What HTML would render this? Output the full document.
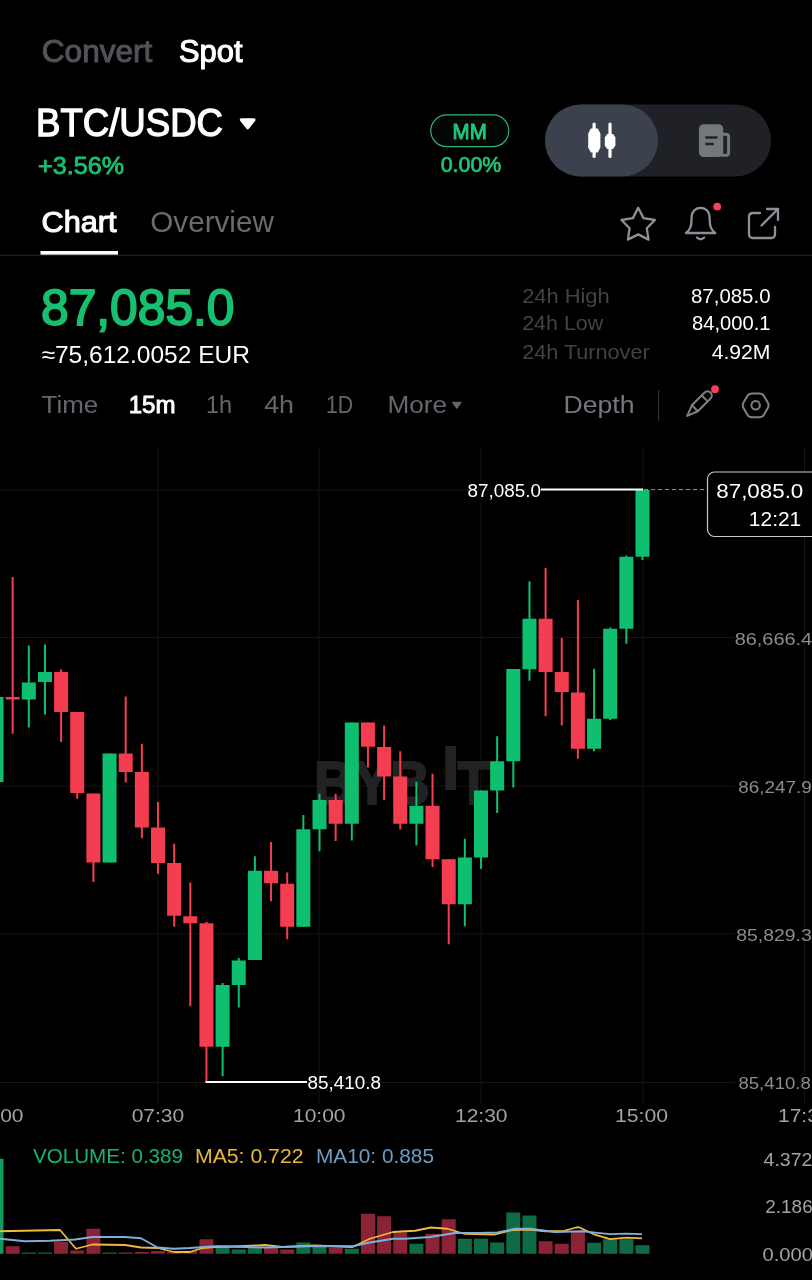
<!DOCTYPE html>
<html lang="en">
<head>
<meta charset="utf-8">
<title>BTC/USDC Spot</title>
<style>
html,body{margin:0;padding:0;background:#000;}
body{width:812px;height:1280px;overflow:hidden;font-family:"Liberation Sans",sans-serif;}
svg{display:block;position:absolute;left:0;top:0;}
text{font-family:"Liberation Sans",sans-serif;white-space:pre;}
.b{font-weight:bold;}
</style>
</head>
<body>
<svg width="812" height="1280" viewBox="0 0 812 1280">
<rect width="812" height="1280" fill="#000"/>
<rect x="0" y="489.5" width="735" height="1" fill="#151515"/>
<rect x="0" y="637.0" width="735" height="1" fill="#151515"/>
<rect x="0" y="785.5" width="735" height="1" fill="#151515"/>
<rect x="0" y="933.5" width="735" height="1" fill="#151515"/>
<rect x="0" y="1082.0" width="735" height="1" fill="#151515"/>
<rect x="157.5" y="447.5" width="1" height="656" fill="#151515"/>
<rect x="318.5" y="447.5" width="1" height="656" fill="#151515"/>
<rect x="480.5" y="447.5" width="1" height="656" fill="#151515"/>
<rect x="642.5" y="447.5" width="1" height="656" fill="#151515"/>
<rect x="804.0" y="447.5" width="1" height="656" fill="#151515"/>
<g fill="#222224" stroke="#222224" stroke-width="2" font-family="Liberation Sans, sans-serif" font-weight="bold" font-size="62"><text x="314" y="803.5" textLength="116" lengthAdjust="spacingAndGlyphs">BYB</text><text x="442.2" y="789.3" font-size="60.5">I</text><text x="457.5" y="803.5" textLength="32.5" lengthAdjust="spacingAndGlyphs">T</text></g>
<rect x="-10.5" y="697" width="14" height="85" fill="#0fbf70"/>
<rect x="11.65" y="577" width="2" height="156.75" fill="#f43d50"/>
<rect x="5.65" y="697" width="14" height="2.5" fill="#f43d50"/>
<rect x="27.8" y="645.5" width="2" height="82" fill="#0fbf70"/>
<rect x="21.8" y="682.5" width="14" height="17" fill="#0fbf70"/>
<rect x="43.95" y="644.5" width="2" height="70" fill="#0fbf70"/>
<rect x="37.95" y="672" width="14" height="10" fill="#0fbf70"/>
<rect x="60.1" y="669.5" width="2" height="72.5" fill="#f43d50"/>
<rect x="54.1" y="672" width="14" height="40" fill="#f43d50"/>
<rect x="76.25" y="712" width="2" height="86.75" fill="#f43d50"/>
<rect x="70.25" y="712" width="14" height="81" fill="#f43d50"/>
<rect x="92.4" y="793.5" width="2" height="88.5" fill="#f43d50"/>
<rect x="86.4" y="793.5" width="14" height="69" fill="#f43d50"/>
<rect x="108.55" y="753.5" width="2" height="109" fill="#0fbf70"/>
<rect x="102.55" y="753.5" width="14" height="109" fill="#0fbf70"/>
<rect x="124.7" y="696.5" width="2" height="86" fill="#f43d50"/>
<rect x="118.7" y="753.5" width="14" height="18.5" fill="#f43d50"/>
<rect x="140.85" y="743.75" width="2" height="94.5" fill="#f43d50"/>
<rect x="134.85" y="772" width="14" height="55.5" fill="#f43d50"/>
<rect x="157" y="802" width="2" height="71.75" fill="#f43d50"/>
<rect x="151" y="827.5" width="14" height="35.5" fill="#f43d50"/>
<rect x="173.15" y="843.75" width="2" height="83" fill="#f43d50"/>
<rect x="167.15" y="863" width="14" height="52.75" fill="#f43d50"/>
<rect x="189.3" y="882.5" width="2" height="123.75" fill="#f43d50"/>
<rect x="183.3" y="916.25" width="14" height="7" fill="#f43d50"/>
<rect x="205.45" y="922" width="2" height="160" fill="#f43d50"/>
<rect x="199.45" y="923.25" width="14" height="123.5" fill="#f43d50"/>
<rect x="221.6" y="983" width="2" height="93.25" fill="#0fbf70"/>
<rect x="215.6" y="985" width="14" height="61.75" fill="#0fbf70"/>
<rect x="237.75" y="958" width="2" height="49.5" fill="#0fbf70"/>
<rect x="231.75" y="960.5" width="14" height="24.5" fill="#0fbf70"/>
<rect x="253.9" y="856.25" width="2" height="103.75" fill="#0fbf70"/>
<rect x="247.9" y="870.75" width="14" height="89.25" fill="#0fbf70"/>
<rect x="270.05" y="842" width="2" height="59.25" fill="#f43d50"/>
<rect x="264.05" y="870.75" width="14" height="12.5" fill="#f43d50"/>
<rect x="286.2" y="872.5" width="2" height="66.75" fill="#f43d50"/>
<rect x="280.2" y="883.75" width="14" height="43" fill="#f43d50"/>
<rect x="302.35" y="815" width="2" height="112" fill="#0fbf70"/>
<rect x="296.35" y="829.25" width="14" height="97.5" fill="#0fbf70"/>
<rect x="318.5" y="793.75" width="2" height="57.5" fill="#0fbf70"/>
<rect x="312.5" y="800" width="14" height="29.25" fill="#0fbf70"/>
<rect x="334.65" y="794" width="2" height="47" fill="#f43d50"/>
<rect x="328.65" y="800" width="14" height="23.75" fill="#f43d50"/>
<rect x="350.8" y="722.5" width="2" height="118" fill="#0fbf70"/>
<rect x="344.8" y="722.5" width="14" height="101.25" fill="#0fbf70"/>
<rect x="366.95" y="722.5" width="2" height="45" fill="#f43d50"/>
<rect x="360.95" y="722.5" width="14" height="24.25" fill="#f43d50"/>
<rect x="383.1" y="725.5" width="2" height="74.5" fill="#f43d50"/>
<rect x="377.1" y="747" width="14" height="29.5" fill="#f43d50"/>
<rect x="399.25" y="751.25" width="2" height="78.25" fill="#f43d50"/>
<rect x="393.25" y="776.5" width="14" height="47.25" fill="#f43d50"/>
<rect x="415.4" y="781.75" width="2" height="63.75" fill="#0fbf70"/>
<rect x="409.4" y="805.75" width="14" height="18" fill="#0fbf70"/>
<rect x="431.55" y="773.75" width="2" height="93.25" fill="#f43d50"/>
<rect x="425.55" y="805.75" width="14" height="53.5" fill="#f43d50"/>
<rect x="447.7" y="859.25" width="2" height="85" fill="#f43d50"/>
<rect x="441.7" y="859.25" width="14" height="45" fill="#f43d50"/>
<rect x="463.85" y="838.75" width="2" height="87.5" fill="#0fbf70"/>
<rect x="457.85" y="857.5" width="14" height="46.75" fill="#0fbf70"/>
<rect x="480" y="790.5" width="2" height="78.25" fill="#0fbf70"/>
<rect x="474" y="790.5" width="14" height="67" fill="#0fbf70"/>
<rect x="496.15" y="736.25" width="2" height="76.75" fill="#0fbf70"/>
<rect x="490.15" y="761.25" width="14" height="29.25" fill="#0fbf70"/>
<rect x="512.3" y="669" width="2" height="118.5" fill="#0fbf70"/>
<rect x="506.3" y="669" width="14" height="92.25" fill="#0fbf70"/>
<rect x="528.45" y="581.25" width="2" height="99.5" fill="#0fbf70"/>
<rect x="522.45" y="618.75" width="14" height="50.5" fill="#0fbf70"/>
<rect x="544.6" y="568" width="2" height="148.25" fill="#f43d50"/>
<rect x="538.6" y="618.75" width="14" height="53.25" fill="#f43d50"/>
<rect x="560.75" y="638" width="2" height="87.5" fill="#f43d50"/>
<rect x="554.75" y="672" width="14" height="20" fill="#f43d50"/>
<rect x="576.9" y="600" width="2" height="158.75" fill="#f43d50"/>
<rect x="570.9" y="692.5" width="14" height="56.25" fill="#f43d50"/>
<rect x="593.05" y="668.75" width="2" height="82.5" fill="#0fbf70"/>
<rect x="587.05" y="718.75" width="14" height="30" fill="#0fbf70"/>
<rect x="609.2" y="627.5" width="2" height="92.5" fill="#0fbf70"/>
<rect x="603.2" y="628.75" width="14" height="90" fill="#0fbf70"/>
<rect x="625.35" y="555.5" width="2" height="88.25" fill="#0fbf70"/>
<rect x="619.35" y="556.75" width="14" height="72" fill="#0fbf70"/>
<rect x="641.5" y="490" width="2" height="70" fill="#0fbf70"/>
<rect x="635.5" y="490" width="14" height="66.75" fill="#0fbf70"/>
<rect x="541" y="488.5" width="102" height="2" fill="#fff"/>
<line x1="644" y1="489.5" x2="707" y2="489.5" stroke="#8a8a8a" stroke-width="1" stroke-dasharray="4 3"/>
<rect x="205.5" y="1081" width="101.5" height="2" fill="#fff"/>
<rect x="-10.5" y="1158.75" width="14" height="95" fill="#119a5c"/>
<rect x="5.65" y="1246.25" width="14" height="7.5" fill="#8c2335"/>
<rect x="21.8" y="1252.5" width="14" height="1.25" fill="#0e6b45"/>
<rect x="37.95" y="1252.5" width="14" height="1.25" fill="#0e6b45"/>
<rect x="54.1" y="1241.75" width="14" height="12" fill="#8c2335"/>
<rect x="70.25" y="1250.5" width="14" height="3.25" fill="#8c2335"/>
<rect x="86.4" y="1228.75" width="14" height="25" fill="#8c2335"/>
<rect x="102.55" y="1252.5" width="14" height="1.25" fill="#0e6b45"/>
<rect x="118.7" y="1252.5" width="14" height="1.25" fill="#8c2335"/>
<rect x="134.85" y="1252" width="14" height="1.75" fill="#8c2335"/>
<rect x="151" y="1251" width="14" height="2.75" fill="#8c2335"/>
<rect x="167.15" y="1252" width="14" height="1.75" fill="#8c2335"/>
<rect x="183.3" y="1250.75" width="14" height="3" fill="#8c2335"/>
<rect x="199.45" y="1239.25" width="14" height="14.5" fill="#8c2335"/>
<rect x="215.6" y="1245.5" width="14" height="8.25" fill="#0e6b45"/>
<rect x="231.75" y="1249.5" width="14" height="4.25" fill="#0e6b45"/>
<rect x="247.9" y="1247" width="14" height="6.75" fill="#0e6b45"/>
<rect x="264.05" y="1247.5" width="14" height="6.25" fill="#8c2335"/>
<rect x="280.2" y="1249.5" width="14" height="4.25" fill="#8c2335"/>
<rect x="296.35" y="1242.5" width="14" height="11.25" fill="#0e6b45"/>
<rect x="312.5" y="1245.5" width="14" height="8.25" fill="#0e6b45"/>
<rect x="328.65" y="1248" width="14" height="5.75" fill="#8c2335"/>
<rect x="344.8" y="1248.75" width="14" height="5" fill="#0e6b45"/>
<rect x="360.95" y="1213.75" width="14" height="40" fill="#8c2335"/>
<rect x="377.1" y="1216.25" width="14" height="37.5" fill="#8c2335"/>
<rect x="393.25" y="1232.5" width="14" height="21.25" fill="#8c2335"/>
<rect x="409.4" y="1243.75" width="14" height="10" fill="#0e6b45"/>
<rect x="425.55" y="1233.75" width="14" height="20" fill="#8c2335"/>
<rect x="441.7" y="1219.25" width="14" height="34.5" fill="#8c2335"/>
<rect x="457.85" y="1238.75" width="14" height="15" fill="#0e6b45"/>
<rect x="474" y="1238.75" width="14" height="15" fill="#0e6b45"/>
<rect x="490.15" y="1242.5" width="14" height="11.25" fill="#0e6b45"/>
<rect x="506.3" y="1212.5" width="14" height="41.25" fill="#0e6b45"/>
<rect x="522.45" y="1215.5" width="14" height="38.25" fill="#0e6b45"/>
<rect x="538.6" y="1241.25" width="14" height="12.5" fill="#8c2335"/>
<rect x="554.75" y="1243.75" width="14" height="10" fill="#8c2335"/>
<rect x="570.9" y="1230.75" width="14" height="23" fill="#8c2335"/>
<rect x="587.05" y="1242.8" width="14" height="10.95" fill="#0e6b45"/>
<rect x="603.2" y="1239.2" width="14" height="14.55" fill="#0e6b45"/>
<rect x="619.35" y="1239.2" width="14" height="14.55" fill="#0e6b45"/>
<rect x="635.5" y="1245.2" width="14" height="8.55" fill="#0e6b45"/>
<polyline fill="none" stroke="#f2b83a" stroke-width="1.8" stroke-linejoin="round" points="0,1231.25 60,1230 76,1248.75 92.5,1244.5 125,1245 141,1247.5 157.5,1248 174,1252 190,1252 202.5,1248 215,1247 240,1246.25 265,1245 282.5,1247 315,1245.5 352.5,1247 370,1238.75 393,1232 415,1230.75 431,1227.5 447.5,1228.75 464,1233.75 495,1234.5 512.5,1230 530,1229.5 545,1231.25 562.5,1231.25 576,1227.5 579,1227.3 595,1234.7 610,1239.2 626.6,1237.7 642,1238.3"/>
<polyline fill="none" stroke="#7fb0dc" stroke-width="1.8" stroke-linejoin="round" points="0,1238.75 25,1241.25 50,1240.75 75,1239.5 92.5,1237 125,1237 141,1238.25 157.5,1247.5 174,1248.75 190,1248 215,1246.25 265,1247.5 315,1246 352.5,1246.25 370,1242.5 393,1238.75 405,1238.75 430,1237 455,1233 480,1233 497.5,1232.5 515,1228.75 530,1228.75 555,1232 583,1231.25 595,1232.7 610,1234.2 626.6,1233.6 642,1234.2"/>
<!-- top nav -->
<text x="41.8" y="62" font-size="31.4" fill="#505358" stroke="#505358" stroke-width="1" textLength="110.5" lengthAdjust="spacingAndGlyphs">Convert</text>
<text x="179" y="62" font-size="31.4" fill="#fff" stroke="#fff" stroke-width="1.1" textLength="63.5" lengthAdjust="spacingAndGlyphs">Spot</text>
<!-- pair -->
<text x="36" y="135.6" font-size="38.5" fill="#fff" stroke="#fff" stroke-width="1.3" textLength="187" lengthAdjust="spacingAndGlyphs">BTC/USDC</text>
<path d="M241.3 119.7 L254.1 119.7 L247.7 127.8 Z" fill="#fff" stroke="#fff" stroke-width="3" stroke-linejoin="round"/>
<text x="38" y="173.8" font-size="23.5" fill="#17c070" stroke="#17c070" stroke-width="0.8" lengthAdjust="spacingAndGlyphs" textLength="86">+3.56%</text>
<!-- MM -->
<rect x="430.8" y="114.9" width="78" height="31.8" rx="15.9" fill="#020604" stroke="#2cb87a" stroke-width="1.2"/>
<text x="452.6" y="139.2" font-size="22" fill="#1fc97c" stroke="#1fc97c" stroke-width="1" textLength="34.2" lengthAdjust="spacingAndGlyphs">MM</text>
<text x="440.7" y="172" font-size="22.3" fill="#1fc97c" stroke="#1fc97c" stroke-width="0.7" lengthAdjust="spacingAndGlyphs" textLength="60.6">0.00%</text>
<!-- toggle -->
<rect x="545" y="104.5" width="226" height="72" rx="36" fill="#1f2126"/>
<rect x="545" y="104.5" width="113" height="72" rx="36" fill="#3b424d"/>
<g fill="#fff">
<rect x="592.5" y="122.5" width="3.2" height="35.5" rx="1.6"/>
<rect x="608.4" y="122.5" width="3.2" height="35.5" rx="1.6"/>
<path d="M590.8 128.5 h7 l2.6 5 v14 l-2.6 5 h-7 l-2.6 -5 v-14 z"/>
<path d="M607.2 134 h5.8 l2.4 3.5 v8 l-2.4 3.5 h-5.8 l-2.4 -3.5 v-8 z"/>
</g>
<g>
<rect x="720" y="134.2" width="8.6" height="21.1" rx="2.5" fill="none" stroke="#74777c" stroke-width="3"/>
<rect x="699" y="124.2" width="24.2" height="32.9" rx="4.5" fill="#74777c"/>
<rect x="705.3" y="136.3" width="12.2" height="2.4" fill="#1f2126"/>
<rect x="705.3" y="142.8" width="8.5" height="2.4" fill="#1f2126"/>
</g>
<!-- tabs -->
<text x="41.5" y="231.8" font-size="30" fill="#fff" stroke="#fff" stroke-width="1.1" textLength="75" lengthAdjust="spacingAndGlyphs">Chart</text>
<rect x="40.5" y="251" width="77.5" height="4" fill="#fff"/>
<text x="150.3" y="231.8" font-size="29.5" fill="#686b72" textLength="123.5" lengthAdjust="spacingAndGlyphs">Overview</text>
<rect x="0" y="254.6" width="812" height="1.3" fill="#202022"/>
<!-- tab icons -->
<g fill="none" stroke="#8d9096" stroke-width="2.3" stroke-linejoin="round" stroke-linecap="round">
<path d="M638.2 207.8 L643.5 218.1 L654.9 220.0 L646.8 228.2 L648.5 239.6 L638.2 234.4 L627.9 239.6 L629.6 228.2 L621.5 220.0 L632.9 218.1 Z"/>
<path d="M686 233 C691 229 691.5 225 691.5 219 C691.5 212 695 207.8 700.6 207.8 C706.2 207.8 709.7 212 709.7 219 C709.7 225 710.2 229 715.2 233 Z"/>
<path d="M697 237.5 Q700.6 241 704.2 237.5"/>
<path d="M760 213 H753 Q749 213 749 217 V234 Q749 238 753 238 H771 Q775 238 775 234 V227"/>
<path d="M761.5 225.5 L777.5 209.5 M767 209 H778 V220"/>
</g>
<circle cx="717.2" cy="206.6" r="3.9" fill="#f6405a"/>
<!-- price -->
<text x="41" y="325.2" font-size="49.5" fill="#17c070" stroke="#17c070" stroke-width="1.8" lengthAdjust="spacingAndGlyphs" textLength="193.5">87,085.0</text>
<text x="41.5" y="362.8" font-size="24" fill="#fff" lengthAdjust="spacingAndGlyphs" textLength="208.5">≈75,612.0052 EUR</text>
<!-- stats -->
<g font-size="20.5" fill="#414347">
<text x="522.2" y="302.6" lengthAdjust="spacingAndGlyphs" textLength="87.5">24h High</text>
<text x="522.2" y="330.4" lengthAdjust="spacingAndGlyphs" textLength="81">24h Low</text>
<text x="522.2" y="358.8" lengthAdjust="spacingAndGlyphs" textLength="127.5">24h Turnover</text>
</g>
<g font-size="20.5" fill="#fff" text-anchor="end">
<text x="770.5" y="302.6" lengthAdjust="spacingAndGlyphs" textLength="79.5">87,085.0</text>
<text x="770.5" y="330.4" lengthAdjust="spacingAndGlyphs" textLength="78.5">84,000.1</text>
<text x="770.5" y="358.8" lengthAdjust="spacingAndGlyphs" textLength="58.8">4.92M</text>
</g>
<!-- timeframes -->
<g font-size="23.5" fill="#64676d">
<text x="41.5" y="413.3" lengthAdjust="spacingAndGlyphs" textLength="56.7">Time</text>
<text x="128.7" y="413.3" fill="#fff" stroke="#fff" stroke-width="0.9" lengthAdjust="spacingAndGlyphs" textLength="46.8">15m</text>
<text x="205.9" y="413.3" lengthAdjust="spacingAndGlyphs" textLength="26.2">1h</text>
<text x="264.2" y="413.3" lengthAdjust="spacingAndGlyphs" textLength="29.8">4h</text>
<text x="325.9" y="413.3" textLength="27.1" lengthAdjust="spacingAndGlyphs">1D</text>
<text x="387.4" y="413.3" lengthAdjust="spacingAndGlyphs" textLength="59.6">More</text>
<text x="563.5" y="413.3" lengthAdjust="spacingAndGlyphs" textLength="71" fill="#74777d">Depth</text>
</g>
<path d="M452.3 402.3 h9 l-4.5 6.2 z" fill="#64676d" stroke="#64676d" stroke-width="1" stroke-linejoin="round"/>
<rect x="658" y="390" width="1.2" height="31" fill="#2e2f33"/>
<g fill="none" stroke="#7d8086" stroke-width="2" stroke-linejoin="round" stroke-linecap="round">
<path d="M687.2 415.9 L691.87 405.29 L704.59 392.57 A4.2 4.2 0 0 1 710.53 398.51 L697.81 411.23 Z"/>
<path d="M691.87 405.29 L697.81 411.23 M701.69 395.47 L707.63 401.41"/>
<path d="M767.75 402.53 Q769.35 405.30 767.75 408.07 L764.10 414.39 Q762.50 417.16 759.30 417.16 L752.00 417.16 Q748.80 417.16 747.20 414.39 L743.55 408.07 Q741.95 405.30 743.55 402.53 L747.20 396.21 Q748.80 393.44 752.00 393.44 L759.30 393.44 Q762.50 393.44 764.10 396.21 Z"/>
<circle cx="755.65" cy="405.2" r="4.2"/>
</g>
<circle cx="715" cy="389.2" r="3.9" fill="#f6405a"/>
<!-- chart labels -->
<text x="467.5" y="497.2" font-size="17.6" fill="#fff" lengthAdjust="spacingAndGlyphs" textLength="73.5">87,085.0</text>
<text x="307.5" y="1089.2" font-size="17.6" fill="#fff" lengthAdjust="spacingAndGlyphs" textLength="73.5">85,410.8</text>
<rect x="707.5" y="472" width="120" height="64.5" rx="7" fill="#000" stroke="#c8c8c8" stroke-width="1.2"/>
<text x="803.3" y="498.1" font-size="19.7" fill="#fff" text-anchor="end" lengthAdjust="spacingAndGlyphs" textLength="87">87,085.0</text>
<text x="801.3" y="525.8" font-size="19.7" fill="#fff" text-anchor="end" lengthAdjust="spacingAndGlyphs" textLength="52.5">12:21</text>
<g font-size="17.3" fill="#8c8c8c">
<text x="734.7" y="644.7" lengthAdjust="spacingAndGlyphs" textLength="77.5">86,666.4</text>
<text x="738.3" y="792.8" lengthAdjust="spacingAndGlyphs" textLength="73.5">86,247.9</text>
<text x="736.2" y="941.4" lengthAdjust="spacingAndGlyphs" textLength="75.5">85,829.3</text>
<text x="738.4" y="1089.2" lengthAdjust="spacingAndGlyphs" textLength="72.5">85,410.8</text>
</g>
<g font-size="18.8" fill="#a3a3a3">
<text x="-29" y="1122.4" lengthAdjust="spacingAndGlyphs" textLength="52.5">05:00</text>
<text x="131.7" y="1122.4" lengthAdjust="spacingAndGlyphs" textLength="52.5">07:30</text>
<text x="293" y="1122.4" lengthAdjust="spacingAndGlyphs" textLength="52.5">10:00</text>
<text x="455" y="1122.4" lengthAdjust="spacingAndGlyphs" textLength="52.5">12:30</text>
<text x="615" y="1122.4" lengthAdjust="spacingAndGlyphs" textLength="53">15:00</text>
<text x="778" y="1122.4" lengthAdjust="spacingAndGlyphs" textLength="52.5">17:30</text>
</g>
<g font-size="19.6">
<text x="33" y="1163" fill="#19b36d" lengthAdjust="spacingAndGlyphs" textLength="150">VOLUME: 0.389</text>
<text x="195" y="1163" fill="#e9b73a" lengthAdjust="spacingAndGlyphs" textLength="108.5">MA5: 0.722</text>
<text x="316" y="1163" fill="#6c9dc6" lengthAdjust="spacingAndGlyphs" textLength="118">MA10: 0.885</text>
</g>
<g font-size="17.8" fill="#a3a3a3">
<text x="763.5" y="1166.3" lengthAdjust="spacingAndGlyphs" textLength="49">4.372</text>
<text x="765.2" y="1213.2" lengthAdjust="spacingAndGlyphs" textLength="47.5">2.186</text>
<text x="762.5" y="1261" lengthAdjust="spacingAndGlyphs" textLength="50.5">0.000</text>
</g>

</svg>
</body>
</html>
